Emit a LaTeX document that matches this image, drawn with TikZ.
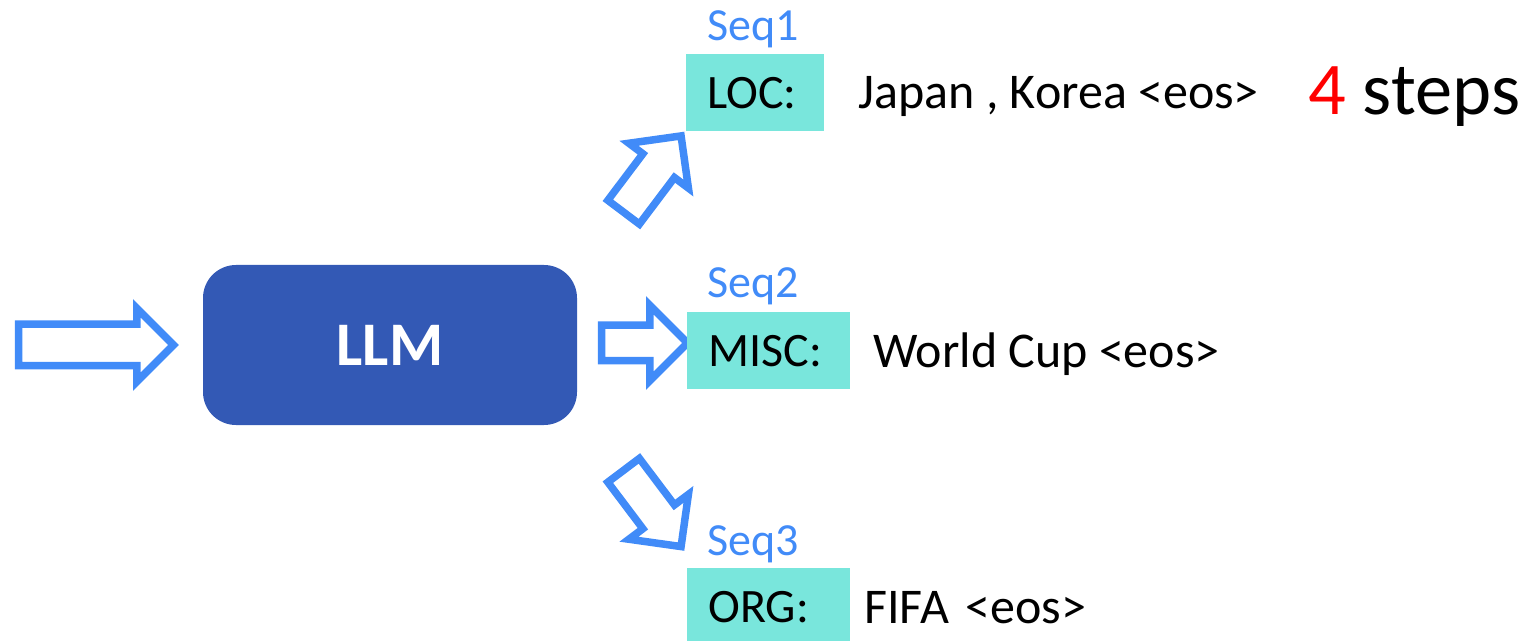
\documentclass[tikz,border=0pt]{standalone}
\usepackage{fontspec}
\setmainfont{Carlito}
\usetikzlibrary{shapes.arrows}
\definecolor{arrowblue}{RGB}{65,139,248}
\definecolor{llmblue}{RGB}{51,89,181}
\definecolor{tealfill}{RGB}{121,230,220}
\tikzset{
  blockarrow/.style={single arrow, draw=arrowblue, fill=white, line width=3.75pt,
    inner xsep=0pt, inner ysep=0pt, outer sep=0pt, text depth=0pt,
    single arrow tip angle=90, miter limit=10, anchor=tail},
  tealbox/.style={fill=tealfill, anchor=north west, inner ysep=0pt, inner xsep=10.5pt,
    align=left, font=\fontsize{24}{28}\selectfont},
  seqlabel/.style={anchor=base west, inner sep=0pt, text=arrowblue, font=\fontsize{23}{27}\selectfont},
  tokens/.style={anchor=base west, inner sep=0pt, font=\fontsize{25}{29}\selectfont},
}
\begin{document}
\begin{tikzpicture}[x=0.5pt,y=-0.5pt]
\useasboundingbox (0,0) rectangle (1530,641);
% input arrow
\node[blockarrow, text height=17pt, minimum width=33pt, minimum height=77.5pt,
      single arrow head extend=8pt] (inarrow) at (18.5,345) {};
% LLM box
\node[fill=llmblue, rounded corners=16.5pt, minimum width=187pt, minimum height=80pt,
      text=white, font=\bfseries\fontsize{31}{36}\selectfont] (llm) at (390,345) {LLM};
% output arrows
\node[blockarrow, text height=14pt, minimum width=34pt, minimum height=43pt,
      single arrow head extend=10pt] (arr2) at (601.5,343) {};
\node[blockarrow, text height=16pt, minimum width=33.5pt, minimum height=47.75pt,
      single arrow head extend=8.75pt, rotate=53] (arr1) at (623.6,212.2) {};
\node[blockarrow, text height=16pt, minimum width=33.5pt, minimum height=47.75pt,
      single arrow head extend=8.75pt, rotate=-53] (arr3) at (623.6,470.3) {};
% sequences
\node[seqlabel] (seq1) at (707,41) {Seq1};
\node[tealbox, minimum width=69pt, minimum height=38.5pt, text width=48pt] (loc) at (686,54) {LOC:};
\node[tokens] (tok1) at (858,109) {Japan , Korea <eos>};

\node[seqlabel] (seq2) at (707,298) {Seq2};
\node[tealbox, minimum width=81.5pt, minimum height=38.5pt, text width=60.5pt] (misc) at (687,312) {MISC:};
\node[tokens] (tok2) at (873,367) {World Cup <eos>};

\node[seqlabel] (seq3) at (707,555) {Seq3};
\node[tealbox, minimum width=81.5pt, minimum height=38.5pt, text width=60.5pt] (org) at (687,568) {ORG:};
\node[tokens] (tok3) at (864,623) {FIFA\hspace{8.3pt}<eos>};

\node[anchor=base west, inner sep=0pt, font=\fontsize{37.2}{42}\selectfont] (steps) at (1308,115) {\textcolor{red}{4} steps};
\end{tikzpicture}
\end{document}
